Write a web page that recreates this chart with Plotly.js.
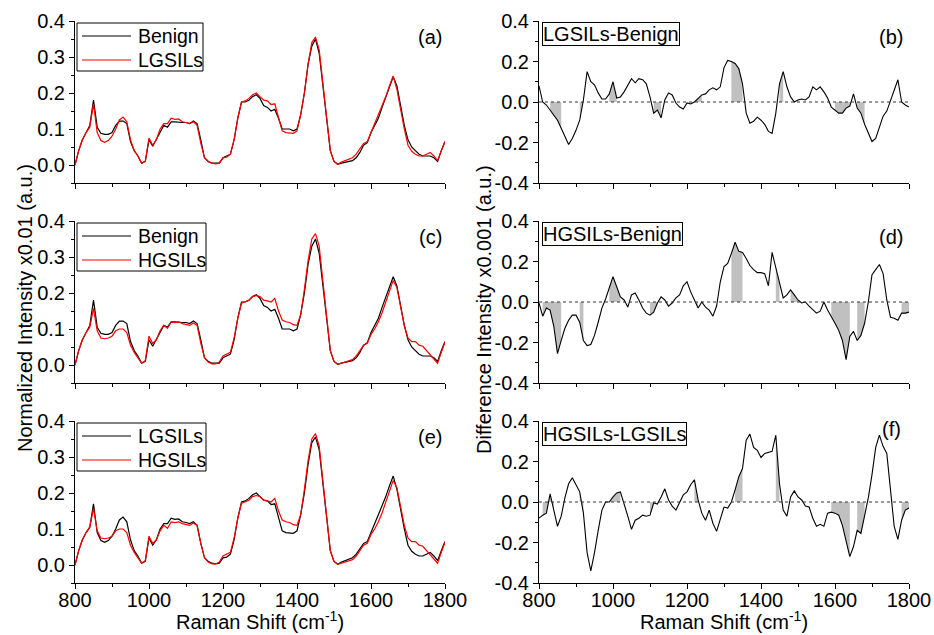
<!DOCTYPE html>
<html><head><meta charset="utf-8">
<script src="https://cdn.plot.ly/plotly-3.0.1.min.js"></script>
<style>html,body{margin:0;padding:0;background:#fff}#chart{width:934px;height:635px}</style>
</head><body><div id="chart"></div>
<script>
// Raman shift (cm-1)
const wavenumber = [800,810,820,830,840,850,860,870,880,890,
 900,910,920,930,940,950,960,970,980,990,
 1000,1010,1020,1030,1040,1050,1060,1070,1080,1090,
 1100,1110,1120,1130,1140,1150,1160,1170,1180,1190,
 1200,1210,1220,1230,1240,1250,1260,1270,1280,1290,
 1300,1310,1320,1330,1340,1350,1360,1370,1380,1390,
 1400,1410,1420,1430,1440,1450,1460,1470,1480,1490,
 1500,1510,1520,1530,1540,1550,1560,1570,1580,1590,
 1600,1610,1620,1630,1640,1650,1660,1670,1680,1690,
 1700,1710,1720,1730,1740,1750,1760,1770,1780,1790,
 1800];

// Normalized intensity x0.01 (a.u.)
const benign = [0.000,0.040,0.070,0.090,0.110,0.180,0.105,0.088,0.085,0.085,
 0.090,0.110,0.122,0.122,0.115,0.065,0.040,0.025,0.005,0.010,
 0.070,0.052,0.070,0.090,0.110,0.105,0.120,0.120,0.118,0.118,
 0.118,0.115,0.122,0.115,0.070,0.020,0.010,0.005,0.005,0.005,
 0.020,0.025,0.030,0.070,0.130,0.175,0.175,0.180,0.190,0.195,
 0.185,0.165,0.160,0.150,0.155,0.130,0.100,0.100,0.100,0.095,
 0.100,0.140,0.200,0.280,0.330,0.350,0.310,0.220,0.120,0.040,
 0.010,0.002,0.005,0.008,0.010,0.012,0.020,0.035,0.055,0.062,
 0.090,0.110,0.130,0.160,0.190,0.220,0.245,0.220,0.160,0.110,
 0.070,0.050,0.040,0.030,0.025,0.025,0.025,0.020,0.010,0.040,
 0.065];
const lgsils = [0.000,0.040,0.070,0.090,0.105,0.170,0.090,0.068,0.063,0.068,
 0.080,0.100,0.125,0.133,0.120,0.070,0.040,0.025,0.005,0.010,
 0.075,0.055,0.070,0.100,0.115,0.115,0.130,0.127,0.128,0.120,
 0.118,0.115,0.120,0.110,0.060,0.020,0.010,0.005,0.003,0.005,
 0.020,0.022,0.030,0.070,0.130,0.175,0.178,0.185,0.195,0.200,
 0.190,0.180,0.178,0.168,0.170,0.130,0.095,0.090,0.090,0.088,
 0.095,0.140,0.200,0.280,0.340,0.355,0.320,0.220,0.120,0.040,
 0.010,0.002,0.008,0.012,0.015,0.020,0.030,0.045,0.060,0.065,
 0.090,0.110,0.135,0.160,0.190,0.220,0.247,0.210,0.150,0.100,
 0.055,0.038,0.030,0.025,0.025,0.030,0.035,0.025,0.012,0.040,
 0.065];
const hgsils = [0.000,0.040,0.070,0.090,0.105,0.157,0.095,0.075,0.073,0.075,
 0.080,0.095,0.100,0.100,0.090,0.055,0.035,0.020,0.005,0.012,
 0.080,0.060,0.070,0.095,0.110,0.102,0.120,0.118,0.120,0.115,
 0.112,0.110,0.117,0.110,0.060,0.020,0.008,0.003,0.003,0.008,
 0.025,0.030,0.035,0.075,0.130,0.172,0.175,0.180,0.190,0.193,
 0.190,0.180,0.178,0.175,0.185,0.150,0.125,0.120,0.118,0.112,
 0.110,0.140,0.210,0.290,0.350,0.365,0.330,0.230,0.120,0.040,
 0.010,0.002,0.005,0.008,0.010,0.015,0.025,0.040,0.055,0.060,
 0.085,0.100,0.120,0.145,0.175,0.210,0.235,0.215,0.160,0.110,
 0.075,0.065,0.065,0.055,0.052,0.040,0.030,0.015,0.005,0.035,
 0.063];

// Difference intensity x0.001 (a.u.)
const diffLgBenign = [0.080,0.000,-0.015,-0.040,-0.070,-0.090,-0.130,-0.170,-0.210,-0.180,
 -0.140,-0.090,0.010,0.150,0.100,0.085,0.045,0.015,0.015,0.040,
 0.100,0.020,0.025,0.050,0.085,0.115,0.095,0.115,0.110,0.090,
 0.025,-0.055,-0.040,-0.078,0.010,0.045,0.035,-0.005,-0.025,-0.035,
 -0.005,-0.010,0.000,0.020,0.035,0.040,0.060,0.070,0.060,0.075,
 0.170,0.205,0.200,0.190,0.165,0.090,-0.055,-0.105,-0.095,-0.075,
 -0.090,-0.110,-0.145,-0.155,-0.055,0.090,0.150,0.075,0.025,0.000,
 0.010,0.015,0.010,0.025,0.075,0.060,0.075,0.050,0.020,-0.025,
 -0.040,-0.055,-0.055,-0.030,-0.020,0.040,-0.030,-0.055,-0.110,-0.155,
 -0.195,-0.180,-0.130,-0.070,-0.045,0.010,0.060,0.110,0.000,-0.015,
 -0.025];
const diffHgBenign = [-0.005,-0.070,-0.030,-0.040,-0.120,-0.255,-0.190,-0.130,-0.090,-0.065,
 -0.065,-0.100,-0.190,-0.215,-0.210,-0.165,-0.100,-0.030,0.015,0.075,
 0.125,0.075,0.025,0.010,-0.025,0.035,0.045,0.010,-0.030,-0.055,
 -0.065,-0.050,-0.005,0.025,0.010,-0.020,-0.005,0.020,0.035,0.080,
 0.100,0.050,0.010,-0.030,0.000,-0.025,-0.040,-0.070,-0.020,0.100,
 0.175,0.190,0.240,0.295,0.250,0.245,0.215,0.180,0.160,0.145,
 0.145,0.140,0.080,0.245,0.170,0.090,0.020,0.035,0.060,0.035,
 0.010,-0.005,0.000,-0.020,-0.040,-0.055,-0.045,0.000,-0.040,-0.070,
 -0.105,-0.140,-0.190,-0.285,-0.170,-0.145,-0.190,-0.165,-0.105,0.000,
 0.135,0.160,0.185,0.140,0.010,-0.075,-0.080,-0.090,-0.055,-0.055,
 -0.050];
const diffHgLg = [-0.080,-0.065,-0.055,0.040,-0.040,-0.120,-0.070,0.020,0.090,0.120,
 0.085,0.050,-0.055,-0.250,-0.340,-0.250,-0.140,-0.040,0.000,0.000,
 0.025,0.045,0.050,-0.005,-0.070,-0.135,-0.090,-0.080,-0.065,-0.070,
 -0.065,-0.005,-0.010,0.025,0.065,0.010,-0.020,-0.040,-0.005,0.035,
 0.050,0.085,0.110,0.010,-0.055,-0.090,-0.040,-0.105,-0.145,-0.080,
 -0.025,-0.030,0.000,0.060,0.125,0.165,0.305,0.335,0.270,0.255,
 0.220,0.240,0.245,0.250,0.330,0.090,-0.040,-0.070,0.025,0.055,
 0.025,0.010,-0.020,-0.025,-0.080,-0.120,-0.110,-0.120,-0.055,-0.050,
 -0.055,-0.065,-0.115,-0.190,-0.270,-0.220,-0.140,-0.155,-0.070,0.020,
 0.135,0.270,0.330,0.275,0.240,0.075,-0.120,-0.185,-0.090,-0.040,
 -0.030];

// shaded bands (cm-1)
const bandsB = [[830,865],[905,920],[985,1015],[1105,1130],[1220,1240],[1315,1355],[1445,1460],[1595,1645],[1655,1685]];
const bandsD = [[805,862],[906,922],[983,1028],[1095,1127],[1217,1233],[1316,1354],[1440,1456],[1474,1514],[1589,1647],[1655,1686],[1776,1800]];
const bandsF = [[805,848],[910,925],[983,1028],[1095,1110],[1217,1233],[1323,1355],[1440,1450],[1589,1647],[1654,1686],[1776,1800]];

// tick labels
const xTickVals = [800,1000,1200,1400,1600,1800];
const xTickText = ['800','1000','1200','1400','1600','1800'];
const leftTickVals = [0,0.1,0.2,0.3,0.4];
const leftTickText = ['0.0','0.1','0.2','0.3','0.4'];
const rightTickVals = [-0.4,-0.2,0,0.2,0.4];
const rightTickText = ['-0.4','-0.2','0.0','0.2','0.4'];

// legend entries of panels (a), (c), (e)
const legendNames = [['Benign','LGSILs'],['Benign','HGSILs'],['LGSILs','HGSILs']];
const legendColors = ['#000000','#ff0000'];
const panelLabels = ['(a)','(b)','(c)','(d)','(e)','(f)'];
const diffLabels = ['LGSILs-Benign','HGSILs-Benign','HGSILs-LGSILs'];

const W = 934, H = 635;
const FONT = 'Liberation Sans, Arial, Helvetica, sans-serif';
const FS = 20;
const LFS = 19.5;
const px = v => v / W;
const py = v => 1 - v / H;
const axId = i => (i === 1 ? '' : String(i));

const traces = [];
function spectrum(y, name, color, idx) {
  traces.push({type:'scatter', mode:'lines', x:wavenumber, y:y, name:name, showlegend:false,
    line:{color:color, width:1.2}, xaxis:'x'+axId(idx), yaxis:'y'+axId(idx)});
}
function bandTraces(diff, bands, idx) {
  bands.forEach(function(b) {
    const xs = [], ys = [];
    wavenumber.forEach(function(w, i) { if (w >= b[0] && w <= b[1]) { xs.push(w); ys.push(diff[i]); } });
    traces.push({type:'scatter', mode:'lines', x:xs, y:ys, fill:'tozeroy', fillcolor:'#c0c0c0',
      line:{width:0, color:'#c0c0c0'}, showlegend:false, hoverinfo:'skip',
      xaxis:'x'+axId(idx), yaxis:'y'+axId(idx)});
  });
}
function diffTrace(diff, name, idx) {
  traces.push({type:'scatter', mode:'lines', x:wavenumber, y:diff, name:name,
    line:{color:'#000', width:1.1}, showlegend:false, xaxis:'x'+axId(idx), yaxis:'y'+axId(idx)});
}

spectrum(benign, 'Benign', legendColors[0], 1);
spectrum(lgsils, 'LGSILs', legendColors[1], 1);
spectrum(benign, 'Benign', legendColors[0], 3);
spectrum(hgsils, 'HGSILs', legendColors[1], 3);
spectrum(lgsils, 'LGSILs', legendColors[0], 5);
spectrum(hgsils, 'HGSILs', legendColors[1], 5);
bandTraces(diffLgBenign, bandsB, 2); diffTrace(diffLgBenign, diffLabels[0], 2);
bandTraces(diffHgBenign, bandsD, 4); diffTrace(diffHgBenign, diffLabels[1], 4);
bandTraces(diffHgLg, bandsF, 6); diffTrace(diffHgLg, diffLabels[2], 6);

const rowsPx = [[21,183],[221,383],[421,583]];
const colsPx = [[75,445],[539,909]];
const legendRight = [203,206,206];

const layout = {
  width: W, height: H, margin:{l:0,r:0,t:0,b:0},
  paper_bgcolor:'#fff', plot_bgcolor:'rgba(0,0,0,0)',
  font:{family:FONT, size:FS, color:'#000'},
  showlegend:false,
  annotations:[], shapes:[]
};

for (let r = 0; r < 3; r++) {
  for (let c = 0; c < 2; c++) {
    const idx = r*2 + c + 1;
    const xa = {
      domain:[px(colsPx[c][0]), px(colsPx[c][1])], anchor:'y'+axId(idx),
      range:[800,1800], tickmode:'array', tickvals:xTickVals, ticktext:xTickText,
      showticklabels: r === 2, ticks:'outside', ticklen:5, tickwidth:1, tickcolor:'#000',
      ticklabelstandoff: -6,
      showline:true, linecolor:'#000', linewidth:1, showgrid:false, zeroline:false,
      minor:{tickmode:'linear', tick0:800, dtick:100, ticks:'outside', ticklen:3, tickwidth:1, tickcolor:'#000', showgrid:false},
      tickfont:{size:FS, family:FONT, color:'#000'}, automargin:false, fixedrange:true
    };
    const left = c === 0;
    const ya = {
      domain:[py(rowsPx[r][1]), py(rowsPx[r][0])], anchor:'x'+axId(idx),
      range: left ? [-0.05,0.4] : [-0.4,0.4], tickmode:'array',
      tickvals: left ? leftTickVals : rightTickVals, ticktext: left ? leftTickText : rightTickText,
      ticks:'outside', ticklen:5, tickwidth:1, tickcolor:'#000',
      showline:true, linecolor:'#000', linewidth:1, showgrid:false, zeroline:false,
      minor:{tickmode:'linear', tick0:0, dtick: left ? 0.05 : 0.1, ticks:'outside', ticklen:3, tickwidth:1, tickcolor:'#000', showgrid:false},
      tickfont:{size:FS, family:FONT, color:'#000'}, automargin:false, fixedrange:true
    };
    layout['xaxis'+axId(idx)] = xa;
    layout['yaxis'+axId(idx)] = ya;

    if (r === 2) {
      layout.annotations.push({text:'Raman Shift (cm<sup>-1</sup>)', xref:'paper', yref:'paper',
        x: px((colsPx[c][0] + colsPx[c][1]) / 2), y: py(620), xanchor:'center', yanchor:'middle',
        showarrow:false, font:{size:FS, family:FONT, color:'#000'}});
    }

    const labY = (idx === 6) ? rowsPx[r][0] + 8 : rowsPx[r][0] + 16;
    layout.annotations.push({text:panelLabels[idx-1], xref:'paper', yref:'paper',
      x: px(left ? 430 : 891), y: py(labY), xanchor:'center', yanchor:'middle',
      showarrow:false, font:{size:FS, family:FONT, color:'#000'}});

    if (!left) {
      layout.annotations.push({text:diffLabels[r], xref:'paper', yref:'paper',
        x: px(542), y: py(rowsPx[r][0] + 1), xanchor:'left', yanchor:'top',
        showarrow:false, bordercolor:'#000', borderwidth:1, borderpad:0, bgcolor:'#fff',
        font:{size:FS, family:FONT, color:'#000'}});
      layout.shapes.push({type:'line', xref:'x'+axId(idx), yref:'y'+axId(idx),
        x0:800, x1:1800, y0:0, y1:0, line:{color:'#333', width:1, dash:'dot'}});
    } else {
      // legend box drawn by hand
      const top = rowsPx[r][0] + 2;
      layout.shapes.push({type:'rect', xref:'paper', yref:'paper',
        x0:px(77), x1:px(legendRight[r]), y0:py(top), y1:py(top + 48),
        line:{color:'#000', width:1}, fillcolor:'#fff', layer:'above'});
      legendNames[r].forEach(function(name, k) {
        const yc = top + 13 + 24*k;
        layout.shapes.push({type:'line', xref:'paper', yref:'paper',
          x0:px(82), x1:px(131), y0:py(yc), y1:py(yc), line:{color:legendColors[k], width:1.2}, layer:'above'});
        layout.annotations.push({text:name, xref:'paper', yref:'paper', x:px(136), y:py(yc),
          xanchor:'left', yanchor:'middle', showarrow:false, font:{size:LFS, family:FONT, color:'#000'}});
      });
    }
  }
}

layout.annotations.push({text:'Normalized Intensity x0.01 (a.u.)', xref:'paper', yref:'paper',
  x:px(25), y:py(308), xanchor:'center', yanchor:'middle', textangle:-90, showarrow:false,
  font:{size:FS, family:FONT, color:'#000'}});
layout.annotations.push({text:'Difference Intensity x0.001 (a.u.)', xref:'paper', yref:'paper',
  x:px(484), y:py(310), xanchor:'center', yanchor:'middle', textangle:-90, showarrow:false,
  font:{size:FS, family:FONT, color:'#000'}});

Plotly.newPlot('chart', traces, layout, {staticPlot:true, displayModeBar:false});
</script>
</body></html>
